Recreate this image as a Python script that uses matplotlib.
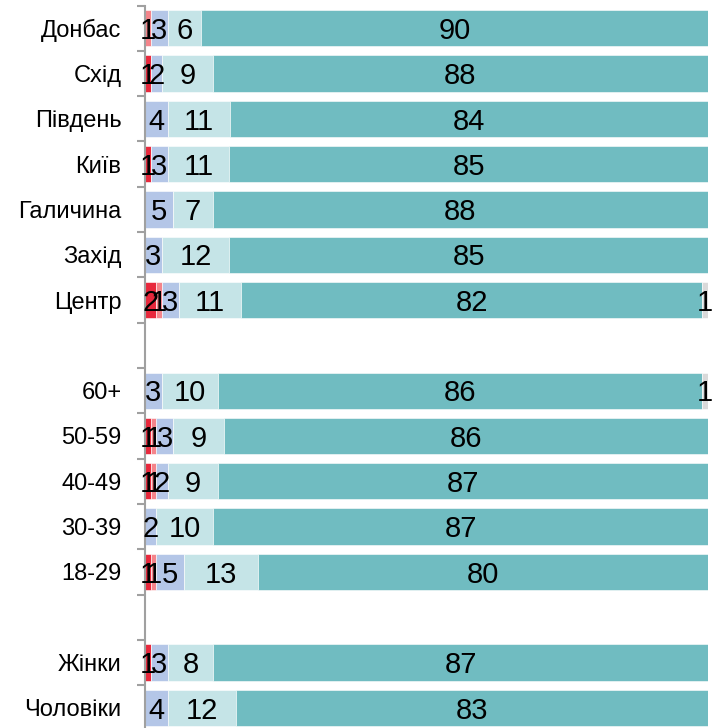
import matplotlib
matplotlib.use("Agg")
import matplotlib.pyplot as plt
import numpy as np

# rows top to bottom, "" = empty spacer row
categories = ["Донбас", "Схід", "Південь", "Київ", "Галичина", "Захід", "Центр", "",
              "60+", "50-59", "40-49", "30-39", "18-29", "",
              "Жінки", "Чоловіки"]

# segments per row, left to right
dark_red = [0, 1, 0, 1, 0, 0, 2, 0, 0, 1, 1, 0, 1, 0, 1, 0]
pink = [1, 0, 0, 0, 0, 0, 1, 0, 0, 1, 1, 0, 1, 0, 0, 0]
blue = [3, 2, 4, 3, 5, 3, 3, 0, 3, 3, 2, 2, 5, 0, 3, 4]
light = [6, 9, 11, 11, 7, 12, 11, 0, 10, 9, 9, 10, 13, 0, 8, 12]
teal = [90, 88, 84, 85, 88, 85, 82, 0, 86, 86, 87, 87, 80, 0, 87, 83]
grey = [0, 0, 0, 0, 0, 0, 1, 0, 1, 0, 0, 0, 0, 0, 0, 0]

series = [dark_red, pink, blue, light, teal, grey]
colors = ["#e8283c", "#f4848a", "#b4c6e7", "#c5e4e7", "#70bcc1", "#d9d9d9"]

font = "Liberation Sans"

fig = plt.figure(figsize=(7.12, 7.28), dpi=100)
ax = fig.add_axes([145 / 712, -2.5 / 728, 563 / 712, 725 / 728])

data = np.array(series, dtype=float)
totals = data.sum(axis=0)
totals[totals == 0] = 1
shares = data / totals * 100  # 100% stacked

y = np.arange(len(categories))
left = np.zeros(len(categories))
for raw, vals, col in zip(data, shares, colors):
    ax.barh(y, vals, left=left, height=0.8, color=col, edgecolor="white", linewidth=0.4)
    for yi, (l, v, r) in enumerate(zip(left, vals, raw)):
        if r > 0:
            # small downward nudge so the digits sit in the middle of the bar
            ax.text(l + v / 2, yi + 0.06, f"{int(r)}", ha="center", va="center",
                    fontsize=21, family=font, color="black")
    left += vals

ax.set_xlim(0, 100)
ax.set_ylim(len(categories) - 0.5, -0.5)
ax.set_yticks(y)
ax.set_yticklabels(categories, fontsize=17, family=font)
ax.set_yticks(np.arange(-0.5, len(categories)), minor=True)
ax.tick_params(axis="y", which="major", length=0, pad=17)
ax.tick_params(axis="y", which="minor", length=6, width=1.5, color="#a0a0a0", direction="out")
ax.set_xticks([])
for s in ["top", "right", "bottom"]:
    ax.spines[s].set_visible(False)
ax.spines["left"].set_color("#a0a0a0")
ax.spines["left"].set_linewidth(1.5)

fig.savefig("out.png", dpi=100)
